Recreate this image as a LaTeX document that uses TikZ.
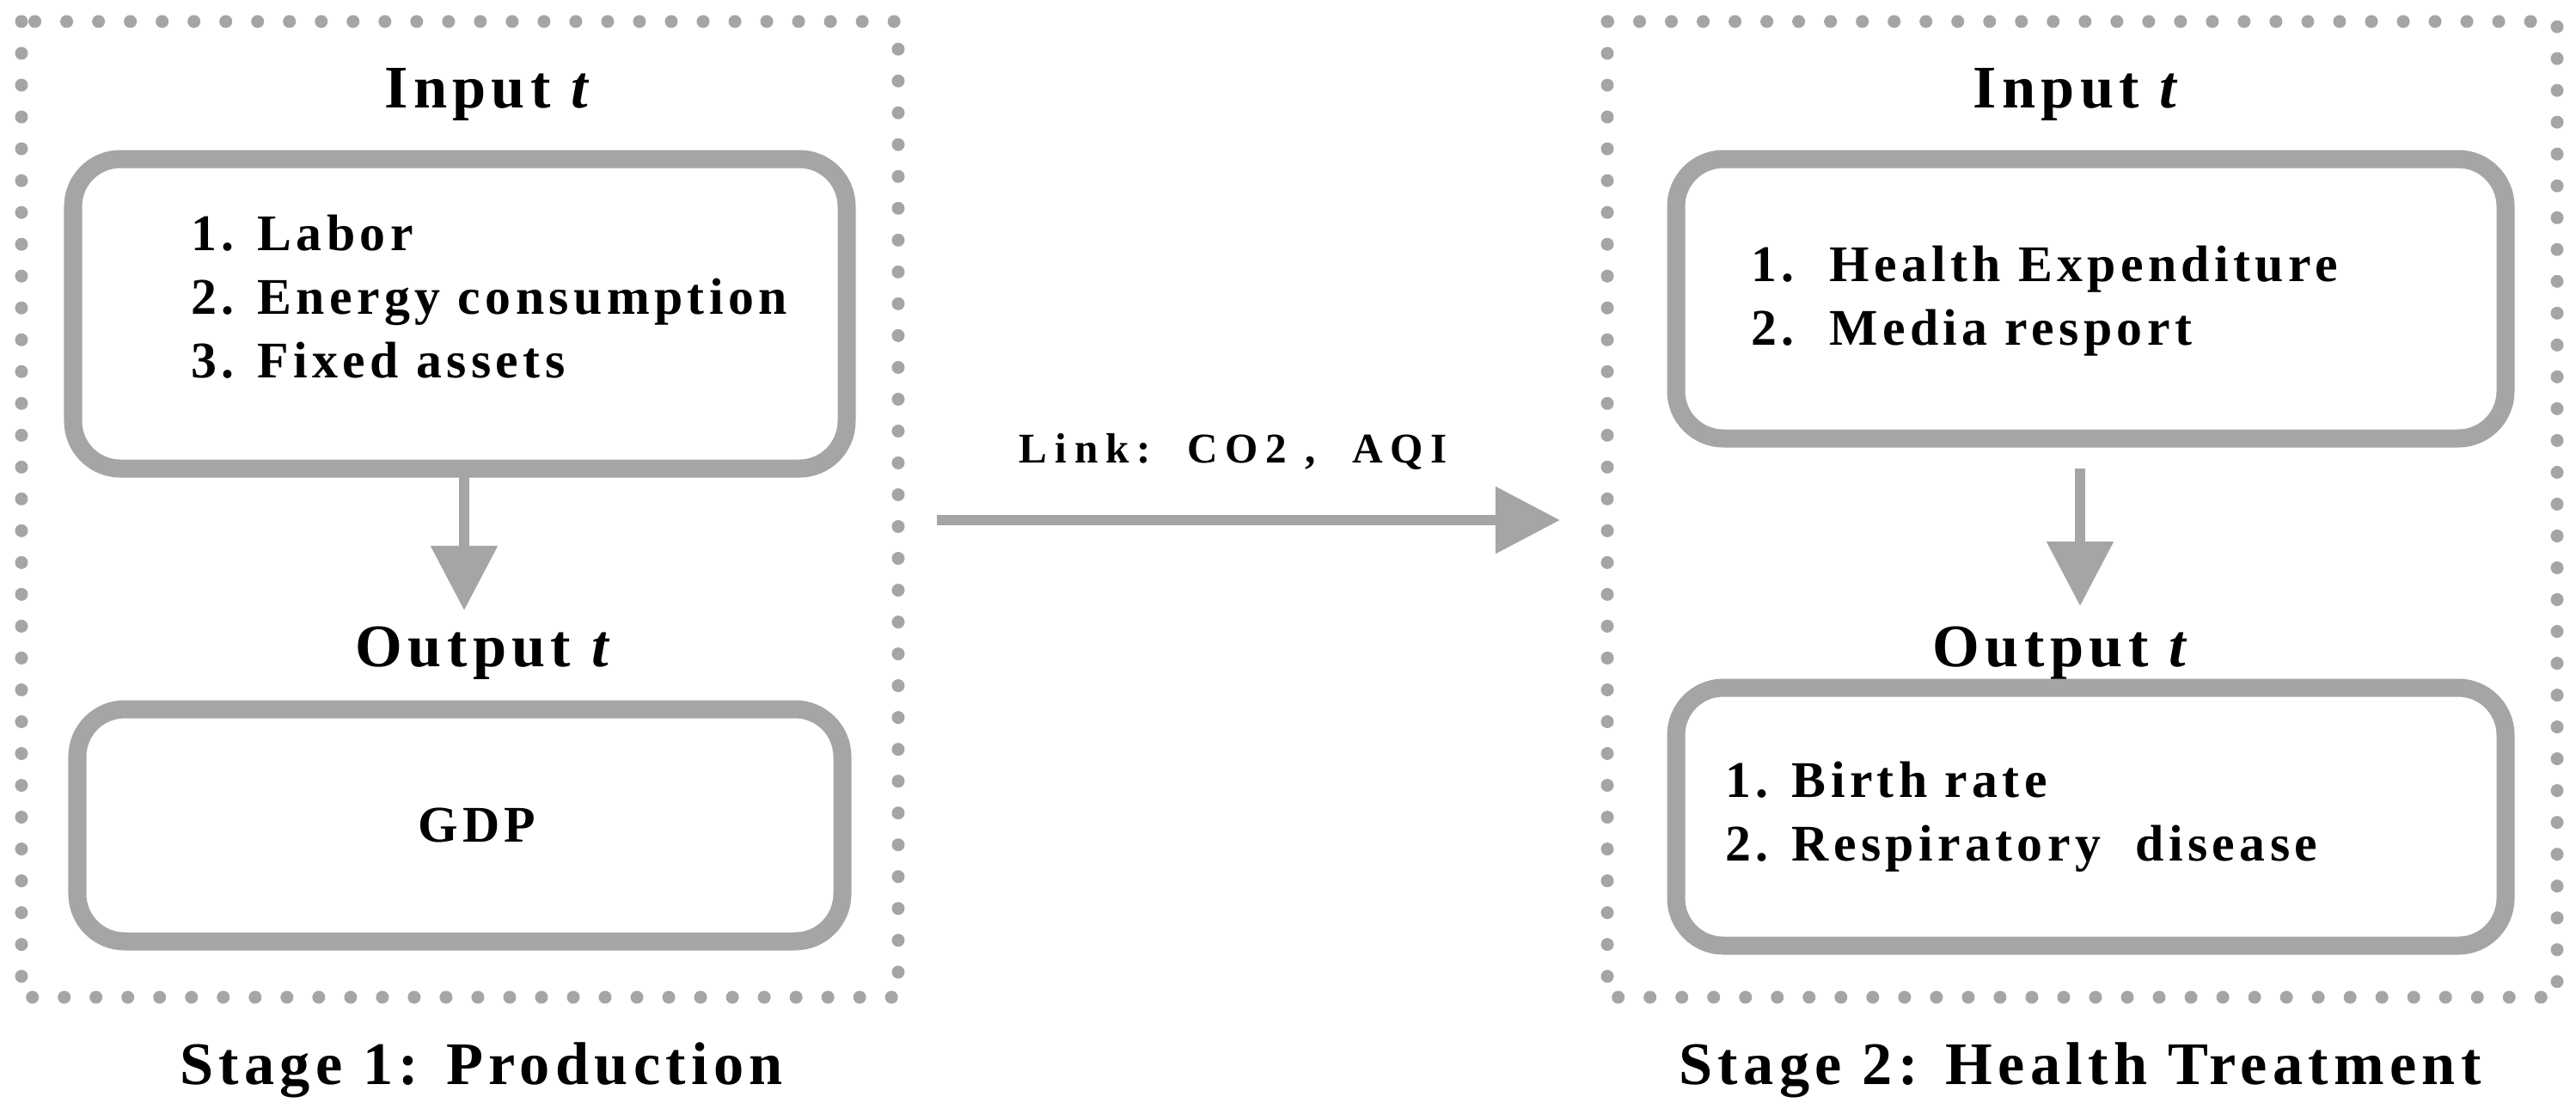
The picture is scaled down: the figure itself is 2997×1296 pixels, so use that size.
\documentclass[tikz,border=0pt]{standalone}
\usepackage{fontspec}
\setmainfont{Liberation Serif}
\newfontfamily\spaced[LetterSpace=9]{Liberation Serif}
\newfontfamily\wide[LetterSpace=18]{Liberation Serif}
\usetikzlibrary{arrows.meta}
\definecolor{gr}{RGB}{165,165,165}
\begin{document}
\begin{tikzpicture}[x=0.01cm,y=-0.01cm,
 dotbox/.style={draw=gr,line width=0.15cm,line cap=round,dash pattern=on 0pt off 0.37cm},
 rbox/.style={draw=gr,line width=0.21cm,rounded corners=0.55cm},
 arr/.style={draw=gr,line width=0.12cm,-{Triangle[length=0.75cm,width=0.75cm]}},
 ttl/.style={font=\spaced\bfseries\fontsize{20}{24}\selectfont},
 txt/.style={font=\spaced\bfseries\fontsize{17}{21}\selectfont,align=left}]
\useasboundingbox (0,0) rectangle (2997,1296);
\draw[dotbox] (25,25) rectangle (1045,1160);
\draw[dotbox] (1870,25) rectangle (2975,1160);
\node[ttl] (in1) at (570,110) {Input \textit{t}};
\draw[rbox] (85,185) rectangle (985,545);
\node[txt,anchor=west] (t1) at (210,345) {1. Labor\\2. Energy consumption\\3. Fixed assets};
\coordinate (a1s) at (540,555);
\coordinate (a1e) at (540,710);
\draw[arr] (a1s) -- (a1e);
\node[ttl] (out1) at (565,760) {Output \textit{t}};
\draw[rbox] (90,825) rectangle (980,1095);
\node[txt] (gdp) at (555,960) {GDP};
\node[ttl] (s1) at (560,1245) {Stage 1: Production};
\node[ttl] (in2) at (2418,110) {Input \textit{t}};
\draw[rbox] (1950,185) rectangle (2915,510);
\node[txt,anchor=west] (t2) at (2025,350) {1.\ \ Health Expenditure\\2.\ \ Media resport};
\coordinate (a2s) at (2420,545);
\coordinate (a2e) at (2420,705);
\draw[arr] (a2s) -- (a2e);
\node[ttl] (out2) at (2400,760) {Output \textit{t}};
\draw[rbox] (1950,800) rectangle (2915,1100);
\node[txt,anchor=west] (t3) at (1995,950) {1. Birth rate\\2. Respiratory\ \ disease};
\node[ttl] (s2) at (2420,1245) {Stage 2: Health Treatment};
\coordinate (ls) at (1090,605);
\coordinate (le) at (1815,605);
\draw[arr] (ls) -- (le);
\node[font=\wide\bfseries\fontsize{14}{17}\selectfont] (lk) at (1435,525) {Link:\ \ CO2\ ,\ \ AQI};
\end{tikzpicture}
\end{document}
